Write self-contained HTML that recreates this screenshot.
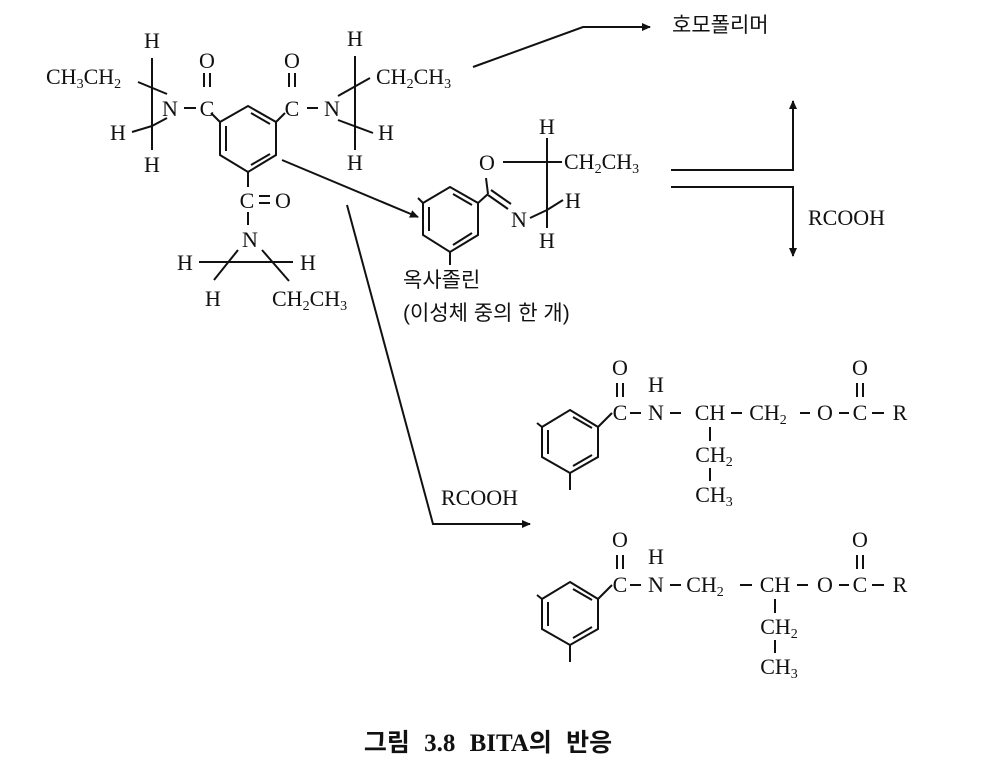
<!DOCTYPE html>
<html><head><meta charset="utf-8"><style>
html,body{margin:0;padding:0;background:#fff;}
svg{display:block;}
text{font-family:"Liberation Serif","Noto Serif CJK SC",serif;font-size:22px;fill:#111;}
.k{font-family:"Liberation Sans","Noto Sans CJK KR",sans-serif;font-size:21px;}
.s{font-size:14px;}
line,polyline,path{stroke:#111;stroke-width:2;fill:none;}
</style></head><body>
<svg width="992" height="775" viewBox="0 0 992 775" xmlns="http://www.w3.org/2000/svg">
<defs><marker id="a" markerWidth="10" markerHeight="10" refX="8" refY="5" orient="auto" markerUnits="userSpaceOnUse"><path d="M0,1 L9,5 L0,9 Z" style="fill:#111;stroke:none"/></marker></defs>

<polygon points="248,106 276,122 276,155 248,172 220,155 220,122" style="fill:none;stroke:#111;stroke-width:2"/>
<line x1="251" y1="113" x2="270" y2="124"/><line x1="226" y1="126" x2="226" y2="151"/><line x1="251" y1="165" x2="270" y2="154"/>
<line x1="220" y1="122" x2="211" y2="113"/>
<text x="207" y="116" text-anchor="middle">C</text>
<text x="207" y="68" text-anchor="middle">O</text>
<line x1="204" y1="73" x2="204" y2="87"/><line x1="210" y1="73" x2="210" y2="87"/>
<line x1="184" y1="108" x2="196" y2="108"/>
<text x="170" y="116" text-anchor="middle">N</text>
<line x1="152" y1="58" x2="152" y2="150"/>
<text x="152" y="48" text-anchor="middle">H</text>
<text x="152" y="172" text-anchor="middle">H</text>
<text x="46" y="84">CH<tspan class="s" dy="4">3</tspan><tspan dy="-4">CH</tspan><tspan class="s" dy="4">2</tspan></text>
<line x1="138" y1="82" x2="167" y2="94"/>
<line x1="132" y1="132" x2="152" y2="126"/><line x1="152" y1="126" x2="167" y2="118"/>
<text x="118" y="140" text-anchor="middle">H</text>
<line x1="276" y1="122" x2="285" y2="113"/>
<text x="292" y="116" text-anchor="middle">C</text>
<text x="292" y="68" text-anchor="middle">O</text>
<line x1="289" y1="73" x2="289" y2="87"/><line x1="295" y1="73" x2="295" y2="87"/>
<line x1="307" y1="108" x2="318" y2="108"/>
<text x="332" y="116" text-anchor="middle">N</text>
<line x1="355" y1="56" x2="355" y2="150"/>
<text x="355" y="46" text-anchor="middle">H</text>
<text x="355" y="170" text-anchor="middle">H</text>
<line x1="338" y1="96" x2="370" y2="78"/>
<line x1="338" y1="120" x2="373" y2="133"/>
<text x="386" y="140" text-anchor="middle">H</text>
<text x="376" y="84">CH<tspan class="s" dy="4">2</tspan><tspan dy="-4">CH</tspan><tspan class="s" dy="4">3</tspan></text>
<line x1="248" y1="172" x2="248" y2="187"/>
<text x="247" y="208" text-anchor="middle">C</text>
<line x1="259" y1="196" x2="270" y2="196"/><line x1="259" y1="203" x2="270" y2="203"/>
<text x="283" y="208" text-anchor="middle">O</text>
<line x1="248" y1="212" x2="248" y2="225"/>
<text x="250" y="247" text-anchor="middle">N</text>
<line x1="199" y1="262" x2="293" y2="262"/>
<line x1="238" y1="250" x2="214" y2="280"/><line x1="262" y1="250" x2="289" y2="281"/>
<text x="185" y="270" text-anchor="middle">H</text>
<text x="308" y="270" text-anchor="middle">H</text>
<text x="213" y="306" text-anchor="middle">H</text>
<text x="272" y="306">CH<tspan class="s" dy="4">2</tspan><tspan dy="-4">CH</tspan><tspan class="s" dy="4">3</tspan></text>

<polyline points="473,67 583,27 650,27" marker-end="url(#a)"/>
<text class="k" x="672" y="32">호모폴리머</text>
<line x1="282" y1="160" x2="418" y2="217" marker-end="url(#a)"/>
<polyline points="347,205 433,524 530,524" marker-end="url(#a)"/>
<text x="441" y="505">RCOOH</text>
<polyline points="671,170 793,170 793,101" marker-end="url(#a)"/>
<polyline points="671,187 793,187 793,256" marker-end="url(#a)"/>
<text x="808" y="225">RCOOH</text>

<polygon points="450,187 478,203 478,235 450,252 423,235 423,203" style="fill:none;stroke:#111;stroke-width:2"/>
<line x1="453" y1="194" x2="472" y2="205"/><line x1="429" y1="207" x2="429" y2="231"/><line x1="453" y1="245" x2="472" y2="233"/>
<line x1="423" y1="203" x2="418" y2="198"/><line x1="450" y1="252" x2="450" y2="265"/>
<line x1="478" y1="203" x2="488" y2="194"/>
<line x1="488" y1="194" x2="486" y2="178"/>
<text x="487" y="170" text-anchor="middle">O</text>
<line x1="488" y1="195" x2="508" y2="209"/><line x1="491" y1="190" x2="511" y2="204"/>
<text x="519" y="227" text-anchor="middle">N</text>
<line x1="503" y1="162" x2="562" y2="162"/>
<line x1="547" y1="138" x2="547" y2="228"/>
<text x="547" y="134" text-anchor="middle">H</text>
<text x="547" y="248" text-anchor="middle">H</text>
<text x="564" y="169">CH<tspan class="s" dy="4">2</tspan><tspan dy="-4">CH</tspan><tspan class="s" dy="4">3</tspan></text>
<line x1="530" y1="218" x2="547" y2="210"/><line x1="547" y1="210" x2="563" y2="200"/>
<text x="573" y="208" text-anchor="middle">H</text>
<text class="k" x="403" y="287">옥사졸린</text>
<text class="k" x="403" y="320">(이성체 중의 한 개)</text>

<g>
<polygon points="570,410 598,427 598,457 570,473 542,457 542,427" style="fill:none;stroke:#111;stroke-width:2"/>
<line x1="573" y1="417" x2="592" y2="428"/><line x1="548" y1="430" x2="548" y2="454"/><line x1="573" y1="466" x2="592" y2="455"/>
<line x1="542" y1="427" x2="537" y2="423"/><line x1="570" y1="473" x2="570" y2="490"/>
<line x1="598" y1="427" x2="612" y2="413"/>
<text x="620" y="420" text-anchor="middle">C</text>
<text x="620" y="375" text-anchor="middle">O</text>
<line x1="617" y1="383" x2="617" y2="397"/><line x1="623" y1="383" x2="623" y2="397"/>
<text x="656" y="392" text-anchor="middle">H</text>
<line x1="630" y1="413" x2="641" y2="413"/>
<text x="656" y="420" text-anchor="middle">N</text>
<line x1="670" y1="413" x2="681" y2="413"/>
<text x="710" y="420" text-anchor="middle">CH</text>
<line x1="731" y1="413" x2="742" y2="413"/>
<text x="768" y="420" text-anchor="middle">CH<tspan class="s" dy="4">2</tspan></text>
<line x1="800" y1="413" x2="810" y2="413"/>
<text x="825" y="420" text-anchor="middle">O</text>
<line x1="839" y1="413" x2="849" y2="413"/>
<text x="860" y="420" text-anchor="middle">C</text>
<text x="860" y="375" text-anchor="middle">O</text>
<line x1="857" y1="383" x2="857" y2="397"/><line x1="863" y1="383" x2="863" y2="397"/>
<line x1="872" y1="413" x2="884" y2="413"/>
<text x="900" y="420" text-anchor="middle">R</text>
<line x1="710" y1="427" x2="710" y2="441"/>
<text x="714" y="462" text-anchor="middle">CH<tspan class="s" dy="4">2</tspan></text>
<line x1="710" y1="468" x2="710" y2="481"/>
<text x="714" y="502" text-anchor="middle">CH<tspan class="s" dy="4">3</tspan></text>
</g>

<g transform="translate(0,172)">
<polygon points="570,410 598,427 598,457 570,473 542,457 542,427" style="fill:none;stroke:#111;stroke-width:2"/>
<line x1="573" y1="417" x2="592" y2="428"/><line x1="548" y1="430" x2="548" y2="454"/><line x1="573" y1="466" x2="592" y2="455"/>
<line x1="542" y1="427" x2="537" y2="423"/><line x1="570" y1="473" x2="570" y2="490"/>
<line x1="598" y1="427" x2="612" y2="413"/>
<text x="620" y="420" text-anchor="middle">C</text>
<text x="620" y="375" text-anchor="middle">O</text>
<line x1="617" y1="383" x2="617" y2="397"/><line x1="623" y1="383" x2="623" y2="397"/>
<text x="656" y="392" text-anchor="middle">H</text>
<line x1="630" y1="413" x2="641" y2="413"/>
<text x="656" y="420" text-anchor="middle">N</text>
<line x1="670" y1="413" x2="681" y2="413"/>
<text x="705" y="420" text-anchor="middle">CH<tspan class="s" dy="4">2</tspan></text>
<line x1="740" y1="413" x2="752" y2="413"/>
<text x="775" y="420" text-anchor="middle">CH</text>
<line x1="797" y1="413" x2="808" y2="413"/>
<text x="825" y="420" text-anchor="middle">O</text>
<line x1="839" y1="413" x2="849" y2="413"/>
<text x="860" y="420" text-anchor="middle">C</text>
<text x="860" y="375" text-anchor="middle">O</text>
<line x1="857" y1="383" x2="857" y2="397"/><line x1="863" y1="383" x2="863" y2="397"/>
<line x1="872" y1="413" x2="884" y2="413"/>
<text x="900" y="420" text-anchor="middle">R</text>
<line x1="775" y1="427" x2="775" y2="441"/>
<text x="779" y="462" text-anchor="middle">CH<tspan class="s" dy="4">2</tspan></text>
<line x1="775" y1="468" x2="775" y2="481"/>
<text x="779" y="502" text-anchor="middle">CH<tspan class="s" dy="4">3</tspan></text>
</g>

<text x="488" y="751" text-anchor="middle" style="font-weight:bold;font-size:25px;word-spacing:8px;font-family:'Liberation Serif','Noto Sans CJK KR',serif">그림 3.8  BITA의 반응</text>
</svg>
</body></html>
